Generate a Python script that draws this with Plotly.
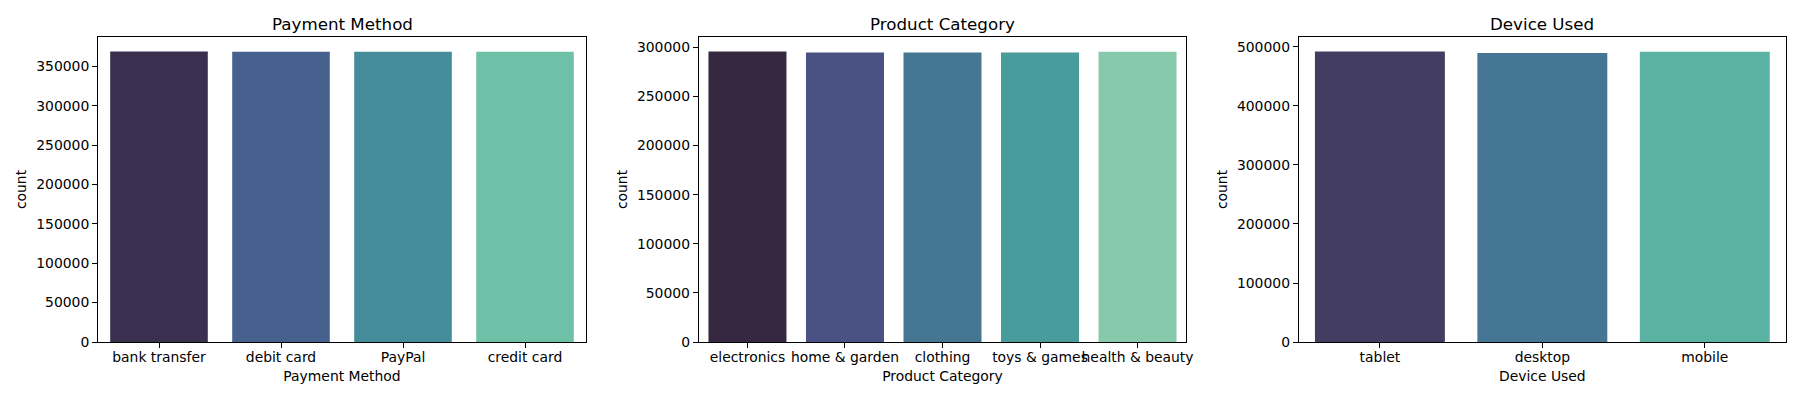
import plotly.graph_objects as go

# ---- data ----
payment_methods = ["bank transfer", "debit card", "PayPal", "credit card"]
payment_counts = [368800, 368500, 368400, 368400]

product_categories = ["electronics", "home & garden", "clothing", "toys & games", "health & beauty"]
product_counts = [295700, 294700, 294600, 294600, 295400]

devices = ["tablet", "desktop", "mobile"]
device_counts = [492300, 489800, 492000]

payment_colors = ["#3b2f4f", "#46618e", "#448c99", "#6ec1a6"]
product_colors = ["#372842", "#4a5283", "#457792", "#489c9c", "#87c9ab"]
device_colors = ["#433d63", "#457794", "#59b2a2"]

panels = [
    ("Payment Method", payment_methods, payment_counts, payment_colors, 50000),
    ("Product Category", product_categories, product_counts, product_colors, 50000),
    ("Device Used", devices, device_counts, device_colors, 100000),
]

W, H = 1800, 400
ML, MR, MT, MB = 90, 22, 29, 66
PW = W - ML - MR
px_domains = [(90, 578), (690.7, 1178.3), (1290.7, 1778)]
domains = [((a - ML) / PW, min(1.0, (b - ML) / PW)) for a, b in px_domains]

FONT = "DejaVu Sans, Liberation Sans, sans-serif"
FS = 13.9
fig = go.Figure()
layout = dict(
    width=W, height=H,
    margin=dict(l=ML, r=MR, t=MT, b=MB, autoexpand=False),
    paper_bgcolor="white", plot_bgcolor="white",
    showlegend=False, bargap=0.2,
    font=dict(family=FONT, size=FS, color="black"),
    annotations=[],
)

for i, (title, cats, vals, cols, dtick) in enumerate(panels):
    n = i + 1
    xa = "x" if n == 1 else f"x{n}"
    ya = "y" if n == 1 else f"y{n}"
    fig.add_trace(go.Bar(
        x=cats, y=vals, marker=dict(color=cols, line=dict(width=0)),
        xaxis=xa, yaxis=ya, width=0.8,
    ))
    xkey = "xaxis" if n == 1 else f"xaxis{n}"
    ykey = "yaxis" if n == 1 else f"yaxis{n}"
    layout[xkey] = dict(
        domain=list(domains[i]), anchor=ya,
        range=[-0.5, len(cats) - 0.5],
        showline=True, linecolor="black", linewidth=1.1, mirror=True,
        ticks="outside", ticklen=4.9, tickwidth=1, tickcolor="black",
        showgrid=False, zeroline=False, tickangle=0, automargin=False,
        ticklabelstandoff=-3,
        tickfont=dict(size=FS, color="black"),
        title=dict(text=title, font=dict(size=FS, color="black"), standoff=7),
        fixedrange=True,
    )
    layout[ykey] = dict(
        domain=[0, 1], anchor=xa,
        range=[0, max(vals) * 1.05],
        dtick=dtick, tick0=0, tickformat="d",
        showline=True, linecolor="black", linewidth=1.1, mirror=True,
        ticks="outside", ticklen=4.9, tickwidth=1, tickcolor="black",
        showgrid=False, zeroline=False, automargin=False,
        tickfont=dict(size=FS, color="black"),
        title=dict(text="count", font=dict(size=FS, color="black"), standoff=6),
        fixedrange=True,
    )
    layout["annotations"].append(dict(
        text=title, x=(domains[i][0] + domains[i][1]) / 2, y=1,
        xref="paper", yref="paper", xanchor="center", yanchor="bottom",
        yshift=1, showarrow=False, font=dict(size=16.7, color="black"),
    ))

fig.update_layout(**layout)
fig.write_html("out.html")
